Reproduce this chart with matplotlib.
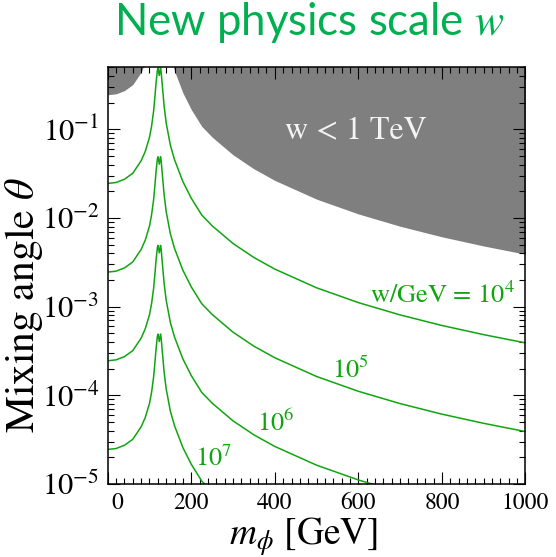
import matplotlib
matplotlib.use('Agg')
import matplotlib.pyplot as plt
from matplotlib import transforms
from matplotlib.ticker import MultipleLocator, LogLocator, NullFormatter

plt.rcParams['font.family'] = 'STIXGeneral'
plt.rcParams['mathtext.fontset'] = 'stix'

GREEN = '#10a510'
GRAY = '#7f7f7f'

# scalar mass grid [GeV]
m_phi = [0, 20, 40, 60, 80, 90, 100, 105, 110, 113, 116, 119, 120.5, 123.5,
         126.5, 128, 130, 135, 140, 150, 160, 180, 200, 225, 250, 300, 350,
         400, 500, 600, 700, 800, 900, 1000]

# w = 1 TeV boundary (excluded above)
theta_1tev = [0.245, 0.251, 0.273, 0.319, 0.441, 0.564, 0.809, 1.08, 1.62, 2.33,
              3.43, 4.66, 4.9, 4.04, 4.9, 4.41, 3.43, 1.84, 1.18, 0.662, 0.453,
              0.257, 0.167, 0.108, 0.0816, 0.0515, 0.0358, 0.0265, 0.0163,
              0.0111, 0.00806, 0.00613, 0.00483, 0.00390]

theta_w1e4 = [0.0245, 0.0251, 0.0273, 0.0319, 0.0441, 0.0564, 0.0809, 0.108, 0.162,
              0.233, 0.343, 0.466, 0.49, 0.404, 0.49, 0.441, 0.343, 0.184, 0.118,
              0.0662, 0.0453, 0.0257, 0.0167, 0.0108, 0.00816, 0.00515, 0.00358,
              0.00265, 0.00163, 0.00111, 8.06e-4, 6.13e-4, 4.83e-4, 3.90e-4]

theta_w1e5 = [2.45e-3, 2.51e-3, 2.73e-3, 3.19e-3, 4.41e-3, 5.64e-3, 8.09e-3, 1.08e-2,
              1.62e-2, 2.33e-2, 3.43e-2, 4.66e-2, 4.9e-2, 4.04e-2, 4.9e-2, 4.41e-2,
              3.43e-2, 1.84e-2, 1.18e-2, 6.62e-3, 4.53e-3, 2.57e-3, 1.67e-3, 1.08e-3,
              8.16e-4, 5.15e-4, 3.58e-4, 2.65e-4, 1.63e-4, 1.11e-4, 8.06e-5, 6.13e-5,
              4.83e-5, 3.90e-5]

theta_w1e6 = [2.45e-4, 2.51e-4, 2.73e-4, 3.19e-4, 4.41e-4, 5.64e-4, 8.09e-4, 1.08e-3,
              1.62e-3, 2.33e-3, 3.43e-3, 4.66e-3, 4.9e-3, 4.04e-3, 4.9e-3, 4.41e-3,
              3.43e-3, 1.84e-3, 1.18e-3, 6.62e-4, 4.53e-4, 2.57e-4, 1.67e-4, 1.08e-4,
              8.16e-5, 5.15e-5, 3.58e-5, 2.65e-5, 1.63e-5, 1.11e-5, 8.06e-6, 6.13e-6,
              4.83e-6, 3.90e-6]

theta_w1e7 = [2.45e-5, 2.51e-5, 2.73e-5, 3.19e-5, 4.41e-5, 5.64e-5, 8.09e-5, 1.08e-4,
              1.62e-4, 2.33e-4, 3.43e-4, 4.66e-4, 4.9e-4, 4.04e-4, 4.9e-4, 4.41e-4,
              3.43e-4, 1.84e-4, 1.18e-4, 6.62e-5, 4.53e-5, 2.57e-5, 1.67e-5, 1.08e-5,
              8.16e-6, 5.15e-6, 3.58e-6, 2.65e-6, 1.63e-6, 1.11e-6, 8.06e-7, 6.13e-7,
              4.83e-7, 3.90e-7]

curves = [theta_w1e4, theta_w1e5, theta_w1e6, theta_w1e7]

# curve labels: text, x [GeV], theta (baseline)
curve_labels = [
    (r'w/GeV = 10$^{4}$', 628, 1.11e-3),
    (r'10$^{5}$', 536, 1.57e-4),
    (r'10$^{6}$', 357, 3.92e-5),
    (r'10$^{7}$', 209, 1.58e-5),
]

x_ticks = [0, 200, 400, 600, 800, 1000]

fig = plt.figure(figsize=(5.56, 5.57), dpi=100)
ax = fig.add_axes([0.1937, 0.1311, 0.7514, 0.7481])

ax.fill_between(m_phi, theta_1tev, 10, color=GRAY, lw=0, zorder=1)
ax.text(425, 0.0791, 'w < 1 TeV', color='#f4f4f4', fontsize=23,
        ha='left', va='baseline', zorder=3)

for th in curves:
    ax.plot(m_phi, th, color=GREEN, lw=1.1, zorder=2)

for txt, x, y in curve_labels:
    ax.text(x, y, txt, color=GREEN, fontsize=19, ha='left', va='baseline')

ax.set_yscale('log')
ax.set_xlim(0, 1000)
ax.set_ylim(1e-5, 0.5)

ax.set_xticks(x_ticks)
ax.xaxis.set_minor_locator(MultipleLocator(20))
ax.yaxis.set_major_locator(LogLocator(base=10, numticks=10))
ax.yaxis.set_minor_locator(LogLocator(base=10, subs=range(2, 10), numticks=20))
ax.yaxis.set_minor_formatter(NullFormatter())

ax.tick_params(which='both', direction='in', top=True, right=True, width=0.8)
ax.tick_params(which='major', length=8.5)
ax.tick_params(which='minor', length=4.5)
ax.tick_params(axis='x', labelsize=17, pad=6.5)
ax.tick_params(axis='y', labelsize=22, pad=6)
for s in ax.spines.values():
    s.set_linewidth(1.1)

ax.set_xlabel(r'$m_\phi$ [GeV]', fontsize=27, va='center')
ax.xaxis.set_label_coords(0.47, -0.126)
ax.set_ylabel(r'Mixing angle $\theta$', fontsize=30, va='center')
ax.yaxis.set_label_coords(-0.2, 0.43)

fig.text(0.556, 0.9364, r'New physics scale $w$', color='#00b050',
         family='Lato', fontsize=31.5, ha='center', va='baseline')

# nudge the "0" label off the left spine
lab0 = ax.xaxis.get_major_ticks()[0].label1
lab0.set_transform(lab0.get_transform() +
                   transforms.ScaledTranslation(7 / 72, 0, fig.dpi_scale_trans))

fig.savefig('out.png', dpi=100)
